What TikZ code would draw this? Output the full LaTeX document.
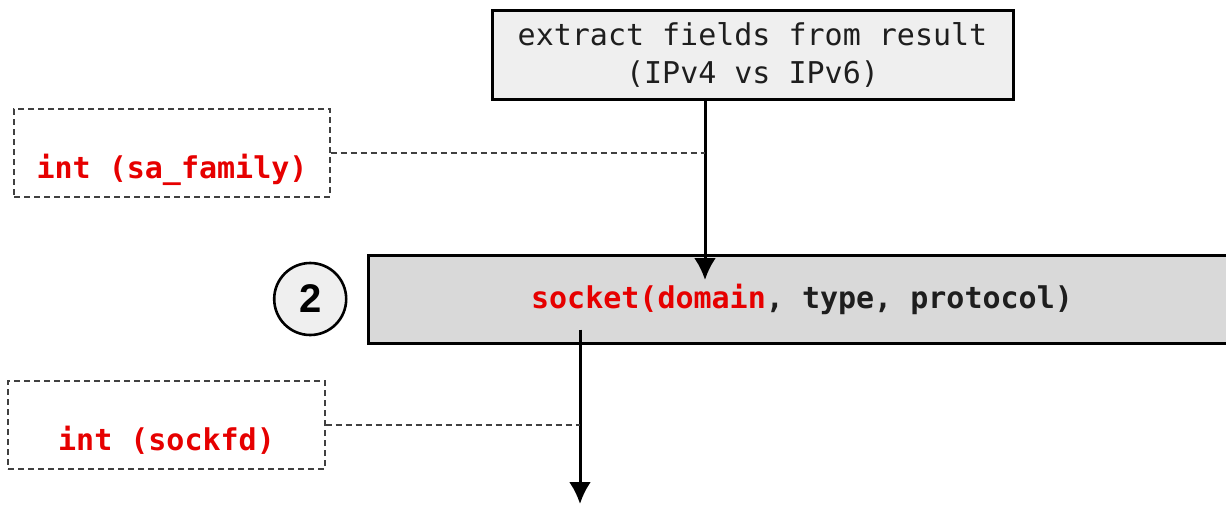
\documentclass[tikz,border=0pt]{standalone}
\usepackage{fontspec}
\setmonofont{DejaVu Sans Mono}
\newfontfamily\numfont{Liberation Sans}
\usepackage{tikz}
\usetikzlibrary{arrows.meta,positioning}

\definecolor{codered}{RGB}{230,0,0}
\definecolor{stepgrey}{RGB}{239,239,239}
\definecolor{callgrey}{RGB}{217,217,217}
\definecolor{inkgrey}{RGB}{30,30,30}

\begin{document}
\begin{tikzpicture}[x=0.5pt,y=-0.5pt,>={Latex[length=11pt,width=11pt]},
  stepbox/.style={draw,line width=1.5pt,fill=stepgrey,inner sep=0pt,align=center,
    text=inkgrey,font=\fontsize{15}{19}\selectfont\ttfamily},
  callbox/.style={stepbox,fill=callgrey,font=\fontsize{15}{19}\selectfont\ttfamily\bfseries},
  stepnum/.style={circle,draw,line width=1.3pt,fill=stepgrey,minimum size=36pt,inner sep=0pt,
    font=\fontsize{20}{20}\selectfont\numfont\bfseries},
  retbox/.style={draw,dash pattern=on 3pt off 2pt,line width=0.6pt,draw=black!75,
    minimum height=44pt,inner sep=0pt},
  rettext/.style={text=codered,font=\fontsize{15}{19}\selectfont\ttfamily\bfseries},
  flow/.style={->,line width=1.5pt},
  link/.style={dash pattern=on 3pt off 2pt,line width=0.6pt,draw=black!75}]

\useasboundingbox (0,0) rectangle (1226,504);
\clip (0,0) rectangle (1226,504);

\node[stepbox, minimum width=260.5pt, minimum height=44.5pt] (extract) at (752.5,55)
  {extract fields from result\\(IPv4 vs IPv6)};
\node[callbox, minimum width=434pt, minimum height=44pt] (sock) at (802,299)
  {\textcolor{codered}{socket(domain}, type, protocol)};
\node[stepnum] (num) [left=9.5pt of sock] {2};

\node[retbox, minimum width=158pt,
  label={[rettext,yshift=-8.5pt]center:int (sa\_family)}] (safam) at (172,153) {};
\node[retbox, minimum width=158.5pt,
  label={[rettext,yshift=-7.5pt]center:int (sockfd)}] (sockfd) at (166.5,425) {};

\coordinate (dom) at (705,280);
\coordinate (out) at (580,504);

\draw[flow] (extract.south -| dom) -- (dom);
\draw[flow] ([yshift=7.5pt]sock.south -| out) -- (out);

\draw[link] (safam.east) -- (safam.east -| dom);
\draw[link] (sockfd.east) -- (sockfd.east -| out);

\end{tikzpicture}
\end{document}
